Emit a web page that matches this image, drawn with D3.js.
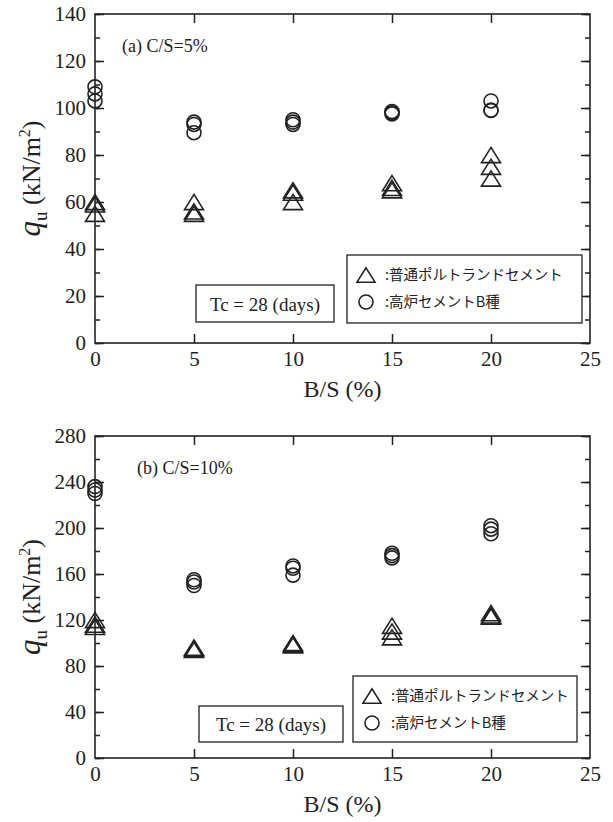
<!DOCTYPE html>
<meta charset="utf-8">
<style>
body { margin: 0; background: #fff; }
svg { font-family: 'Liberation Serif', 'DejaVu Serif', serif; }
.axis path, .axis line { stroke: #222; stroke-width: 1.5; }
.axis text { font-family: 'Liberation Serif', serif; font-size: 21px; fill: #222; }
.mk { fill: none; stroke: #222; stroke-width: 1.6; }
.box { fill: #fff; stroke: #222; stroke-width: 1.3; }
.jp { font-family: 'Noto Sans CJK JP', sans-serif; font-size: 14.5px; fill: #222; }
</style>
<body>
<div id="chart"></div>
<script src="https://cdn.jsdelivr.net/npm/d3@7"></script>
<script>
// B/S levels (%)
var bsLevels = [0, 5, 10, 15, 20];
var xTicks = [0, 5, 10, 15, 20, 25];

// (a) C/S=5%  qu (kN/m2), three specimens per level
var opcA = [[59, 60, 55], [60, 55, 56], [65, 64, 60], [68, 66, 65], [80, 75, 70]];
var bbA  = [[109, 106, 103], [94, 93, 89.5], [95, 94, 93], [98.5, 98, 97.5], [103, 99, 99]];
var yTicksA = [0, 20, 40, 60, 80, 100, 120, 140];

// (b) C/S=10%
var opcB = [[120, 116, 114], [96, 95, 94], [100, 99, 98], [115, 110, 105], [126, 124, 123]];
var bbB  = [[236, 233, 230], [155, 153, 150], [167, 165, 159], [178, 176, 174], [202, 199, 195]];
var yTicksB = [0, 40, 80, 120, 160, 200, 240, 280];

var legendLabels = [':普通ポルトランドセメント', ':高炉セメントB種'];
var panelLabels = ['(a) C/S=5%', '(b) C/S=10%'];
var tcLabel = 'Tc = 28 (days)';

var svg = d3.select('#chart').append('svg')
  .attr('width', 613).attr('height', 822);

var panels = [
  { top: 14, bottom: 343, opc: opcA, bb: bbA, yt: yTicksA, max: 140, minor: 10,
    leg: [347, 255, 235, 68], tc: [196, 285, 138, 37] },
  { top: 436, bottom: 758, opc: opcB, bb: bbB, yt: yTicksB, max: 280, minor: 20,
    leg: [353, 676, 224, 66], tc: [199, 706, 144, 36] }
];

var left = 95, right = 590;
var x = d3.scaleLinear().domain([0, 25]).range([left, right]);

function triangle(cx, cy, s) {
  var h = s * 0.8;
  return 'M' + cx + ',' + (cy - h / 2) + 'L' + (cx + s / 2) + ',' + (cy + h / 2) +
         'L' + (cx - s / 2) + ',' + (cy + h / 2) + 'Z';
}

panels.forEach(function(p, i) {
  var y = d3.scaleLinear().domain([0, p.max]).range([p.bottom, p.top]);
  var g = svg.append('g');
  var minorT = d3.range(0, p.max + 1, p.minor);

  // minor ticks left / right
  g.append('g').attr('class', 'axis').attr('transform', 'translate(' + left + ',0)')
    .call(d3.axisRight(y).tickValues(minorT).tickSize(5).tickFormat(''))
    .select('.domain').remove();
  g.append('g').attr('class', 'axis').attr('transform', 'translate(' + right + ',0)')
    .call(d3.axisLeft(y).tickValues(minorT).tickSize(5).tickFormat(''))
    .select('.domain').remove();
  // major ticks
  g.append('g').attr('class', 'axis').attr('transform', 'translate(' + right + ',0)')
    .call(d3.axisLeft(y).tickValues(p.yt).tickSize(9).tickFormat(''))
    .select('.domain').remove();
  var ya = g.append('g').attr('class', 'axis').attr('transform', 'translate(' + left + ',0)')
    .call(d3.axisLeft(y).tickValues(p.yt).tickSize(-9).tickPadding(9))
    .attr('font-family', 'Liberation Serif');
  ya.select('.domain').remove();

  g.append('g').attr('class', 'axis').attr('transform', 'translate(0,' + p.top + ')')
    .call(d3.axisBottom(x).tickValues(xTicks.slice(1, 5)).tickSize(9).tickFormat(''))
    .select('.domain').remove();
  var xa = g.append('g').attr('class', 'axis').attr('transform', 'translate(0,' + p.bottom + ')')
    .call(d3.axisTop(x).tickValues(xTicks.slice(1, 5)).tickSize(9).tickFormat(''));
  xa.select('.domain').remove();
  g.append('g').attr('class', 'axis').attr('transform', 'translate(0,' + p.bottom + ')')
    .call(d3.axisBottom(x).tickValues(xTicks).tickSize(0).tickPadding(8))
    .attr('font-family', 'Liberation Serif')
    .select('.domain').remove();

  g.append('rect').attr('x', left).attr('y', p.top)
    .attr('width', right - left).attr('height', p.bottom - p.top)
    .attr('fill', 'none').attr('stroke', '#222').attr('stroke-width', 1.6);

  // axis titles
  g.append('text').attr('x', x(12.5)).attr('y', p.bottom + 54)
    .attr('text-anchor', 'middle').attr('font-size', 24).attr('fill', '#222')
    .text('B/S (%)');
  var yl = g.append('text')
    .attr('transform', 'translate(40,' + ((p.top + p.bottom) / 2) + ') rotate(-90)')
    .attr('text-anchor', 'middle').attr('font-size', 26).attr('fill', '#222');
  yl.append('tspan').attr('font-style', 'italic').attr('font-size', 31).text('q');
  yl.append('tspan').attr('dy', 7).attr('font-size', 19).text('u');
  yl.append('tspan').attr('dy', -7).text(' (kN/m');
  yl.append('tspan').attr('dy', -10).attr('font-size', 16).text('2');
  yl.append('tspan').attr('dy', 10).text(')');

  g.append('text').attr('x', i === 0 ? 122 : 137).attr('y', p.top + 38)
    .attr('font-size', 18).attr('fill', '#222').text(panelLabels[i]);

  // data
  bsLevels.forEach(function(b, k) {
    p.opc[k].forEach(function(v) {
      g.append('path').attr('class', 'mk').attr('d', triangle(x(b), y(v), 19));
    });
    p.bb[k].forEach(function(v) {
      g.append('circle').attr('class', 'mk').attr('cx', x(b)).attr('cy', y(v)).attr('r', 7);
    });
  });

  // Tc box
  g.append('rect').attr('class', 'box').attr('x', p.tc[0]).attr('y', p.tc[1])
    .attr('width', p.tc[2]).attr('height', p.tc[3]);
  g.append('text').attr('x', p.tc[0] + p.tc[2] / 2).attr('y', p.tc[1] + p.tc[3] / 2 + 7)
    .attr('text-anchor', 'middle').attr('font-size', 19).attr('fill', '#222').text(tcLabel);

  // legend
  var L = p.leg;
  g.append('rect').attr('class', 'box').attr('x', L[0]).attr('y', L[1])
    .attr('width', L[2]).attr('height', L[3]);
  g.append('path').attr('class', 'mk').attr('d', triangle(L[0] + 19, L[1] + 20, 18));
  g.append('circle').attr('class', 'mk').attr('cx', L[0] + 19).attr('cy', L[1] + 47).attr('r', 7);
  g.append('text').attr('class', 'jp').attr('x', L[0] + 38).attr('y', L[1] + 25).text(legendLabels[0]);
  g.append('text').attr('class', 'jp').attr('x', L[0] + 38).attr('y', L[1] + 52).text(legendLabels[1]);
});
</script>
</body>
